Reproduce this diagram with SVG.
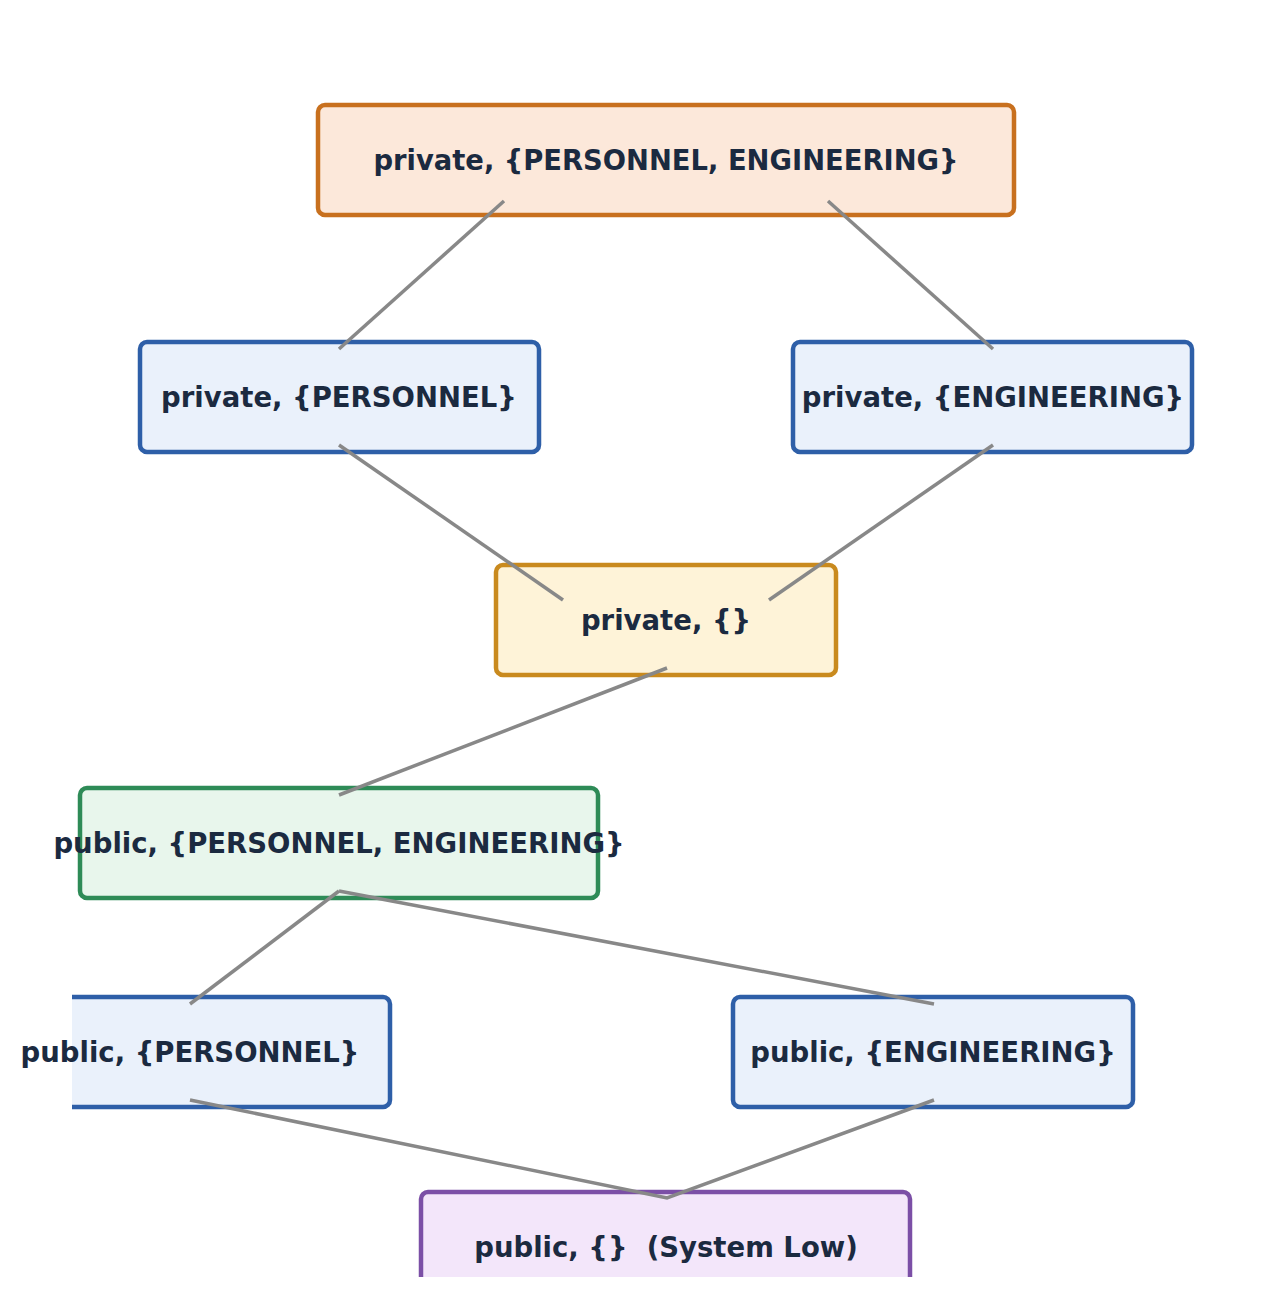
<svg xmlns="http://www.w3.org/2000/svg" width="1281" height="1297" viewBox="0 0 1281 1297">
<style>
.box{stroke-width:4.5}
.lbl{font-family:"DejaVu Sans",sans-serif;font-weight:bold;font-size:27.5px;fill:#1B2A40;text-anchor:middle;white-space:pre}
.edge{stroke:#888888;stroke-width:3.5;fill:none}
.blue{fill:#EAF1FB;stroke:#2E5FA8}
</style>
<defs>
<clipPath id="clip"><rect x="72" y="0" width="1209" height="1277"/></clipPath>
</defs>
<rect width="1281" height="1297" fill="#ffffff"/>
<g id="n_top"><rect class="box" x="318" y="105" width="696" height="110" rx="7" fill="#FCE8DA" stroke="#C8701E"/><text class="lbl" x="666" y="170" textLength="585" lengthAdjust="spacingAndGlyphs">private, {PERSONNEL, ENGINEERING}</text></g>
<g id="n_priv_pers"><rect class="box blue" x="140" y="342" width="399" height="110" rx="7"/><text class="lbl" x="339" y="407">private, {PERSONNEL}</text></g>
<g id="n_priv_eng"><rect class="box blue" x="793" y="342" width="399" height="110" rx="7"/><text class="lbl" x="993" y="407">private, {ENGINEERING}</text></g>
<g id="n_priv"><rect class="box" x="496" y="565" width="340" height="110" rx="7" fill="#FEF3D8" stroke="#C98A1E"/><text class="lbl" x="666" y="630">private, {}</text></g>
<g id="n_pub_all"><rect class="box" x="80" y="788" width="518" height="110" rx="7" fill="#E8F6EC" stroke="#2E8B57"/><text class="lbl" x="339" y="853">public, {PERSONNEL, ENGINEERING}</text></g>
<g id="n_pub_pers"><g clip-path="url(#clip)"><rect class="box blue" x="-10" y="997" width="400" height="110" rx="7"/></g><text class="lbl" x="190" y="1062">public, {PERSONNEL}</text></g>
<g id="n_pub_eng"><rect class="box blue" x="733" y="997" width="400" height="110" rx="7"/><text class="lbl" x="933" y="1062">public, {ENGINEERING}</text></g>
<g id="n_low"><g clip-path="url(#clip)"><rect class="box" x="421" y="1192" width="489" height="110" rx="7" fill="#F3E6FA" stroke="#7B4FA6"/></g><text class="lbl" x="666" y="1257" xml:space="preserve">public, {}  (System Low)</text></g>
<g id="edges">
<line class="edge" x1="504" y1="201" x2="339" y2="349"/>
<line class="edge" x1="828" y1="201" x2="993" y2="349"/>
<line class="edge" x1="339" y1="445" x2="563" y2="600"/>
<line class="edge" x1="993" y1="445" x2="769" y2="600"/>
<line class="edge" x1="667" y1="668" x2="339" y2="795"/>
<line class="edge" x1="339" y1="891" x2="190" y2="1004"/>
<line class="edge" x1="339" y1="891" x2="934" y2="1004"/>
<polyline class="edge" points="190,1100 667,1198 934,1100"/>
</g>
</svg>
